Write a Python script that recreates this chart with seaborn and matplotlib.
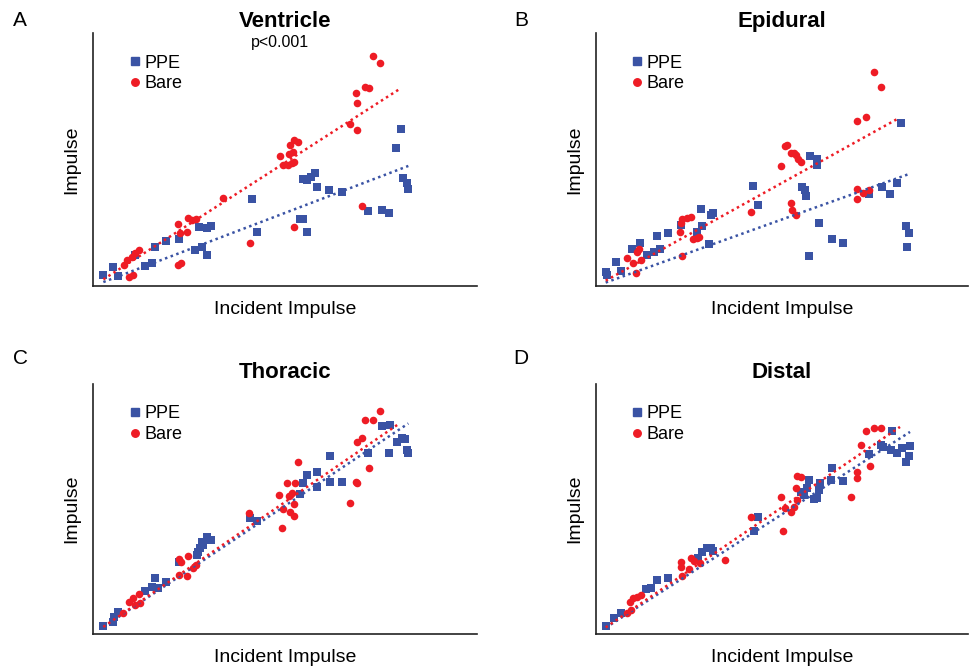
import matplotlib
matplotlib.use("Agg")
import matplotlib.pyplot as plt
from matplotlib.lines import Line2D
import seaborn as sns
import numpy as np
import pandas as pd

# values (arbitrary units, no tick labels in the original)
ventricle_ppe_x = [3.1, 6.1, 7.6, 12.6, 15.6, 17.6, 18.6, 21.9, 25.9, 30.6, 32.6, 34.3, 31.9, 34.1, 35.3,
                   47.6, 49.1, 62.1, 63.1, 64.3, 62.9, 64.1, 65.4, 66.6, 67.1, 70.9, 74.8, 82.6, 86.6, 88.9,
                   90.9, 92.3, 93.1, 94.1, 94.6]
ventricle_ppe_y = [3.3, 5.6, 3.1, 9.3, 6.0, 6.8, 11.6, 13.6, 14.1, 10.8, 11.6, 9.3, 17.8, 17.3, 18.0,
                   26.1, 16.1, 20.0, 20.1, 16.2, 32.0, 31.8, 32.6, 34.0, 29.6, 28.8, 28.3, 22.5, 22.8, 22.0,
                   41.3, 47.0, 32.3, 30.8, 29.0]
ventricle_bare_x = [10.9, 11.9, 9.4, 10.3, 11.6, 12.6, 13.9, 25.6, 26.3, 25.6, 26.1, 28.3, 28.6, 29.6, 30.9,
                    38.9, 47.1, 60.3, 56.1, 57.1, 58.6, 59.6, 60.3, 59.1, 60.4, 61.6, 59.9, 58.9, 77.1, 79.1,
                    78.8, 79.1, 81.6, 82.9, 84.1, 86.1, 80.6]
ventricle_bare_y = [2.6, 3.3, 6.3, 7.8, 8.8, 10.0, 10.8, 6.3, 6.8, 18.5, 16.0, 16.1, 20.5, 19.8, 20.1,
                    26.3, 13.0, 17.8, 39.0, 36.3, 36.3, 37.0, 37.3, 42.3, 43.8, 43.3, 40.3, 39.6, 48.5, 46.8,
                    58.0, 55.0, 59.6, 59.3, 69.0, 66.8, 24.0]

epidural_ppe_x = [2.9, 3.4, 5.9, 7.4, 10.9, 13.1, 15.4, 17.4, 19.2, 18.2, 21.6, 25.6, 30.2, 31.9, 31.6,
                  34.4, 35.2, 33.9, 47.2, 48.7, 61.9, 62.6, 62.9, 64.2, 66.4, 66.4, 63.9, 66.9, 70.7, 74.2,
                  81.9, 85.9, 88.2, 90.4, 91.6, 92.9, 93.9, 93.4]
epidural_ppe_y = [4.3, 3.3, 7.3, 4.6, 11.1, 12.8, 9.3, 10.1, 11.0, 15.1, 16.0, 18.3, 16.3, 18.0, 23.0,
                  21.3, 22.0, 12.6, 30.0, 24.3, 29.8, 28.8, 27.1, 39.0, 38.0, 36.3, 9.1, 19.0, 14.1, 12.8,
                  27.6, 29.8, 27.6, 31.0, 48.8, 18.0, 15.8, 11.8]
epidural_bare_x = [9.2, 11.2, 11.9, 12.2, 12.9, 13.6, 25.6, 25.9, 27.4, 28.6, 25.2, 29.2, 30.2, 30.9, 25.9,
                   46.4, 55.6, 56.6, 57.4, 58.4, 59.4, 59.9, 60.6, 61.4, 58.4, 58.9, 59.9, 78.4, 80.9, 83.4,
                   85.4, 78.4, 78.2, 80.2, 81.9]
epidural_bare_y = [8.3, 6.8, 3.8, 10.3, 11.0, 7.8, 19.0, 20.0, 20.5, 20.6, 16.1, 14.2, 14.5, 14.8, 9.1,
                   22.3, 36.0, 42.0, 42.3, 39.8, 40.0, 39.3, 38.1, 37.3, 25.0, 22.8, 21.3, 49.5, 50.6, 64.2,
                   59.8, 29.0, 26.1, 27.8, 28.8]

thoracic_ppe_x = [3.1, 5.9, 6.3, 7.6, 15.6, 17.6, 18.6, 19.6, 21.9, 25.9, 31.1, 31.6, 32.1, 32.6, 33.1,
                  34.1, 35.3, 47.1, 49.1, 62.1, 63.1, 64.1, 67.1, 67.1, 71.1, 71.1, 74.8, 82.6, 86.6, 89.1,
                  88.9, 91.1, 92.6, 93.6, 94.1, 94.6]
thoracic_ppe_y = [2.5, 3.7, 5.2, 6.7, 13.0, 14.1, 16.7, 13.7, 15.5, 21.7, 23.7, 24.7, 25.7, 27.7, 26.7,
                  29.2, 28.2, 34.7, 33.9, 41.9, 45.2, 47.7, 48.5, 44.2, 53.5, 45.5, 45.7, 54.4, 62.4, 62.7,
                  54.2, 57.7, 58.9, 58.5, 55.2, 54.4]
thoracic_bare_x = [9.1, 10.9, 11.9, 12.6, 13.9, 14.1, 25.9, 26.3, 28.6, 25.9, 28.3, 29.9, 30.9, 46.9, 55.9,
                   56.6, 57.1, 58.1, 58.9, 59.6, 60.3, 59.1, 60.3, 60.6, 61.6, 79.1, 80.6, 81.6, 84.1, 86.1,
                   77.1, 78.9, 79.1, 82.9]
thoracic_bare_y = [6.2, 9.7, 10.7, 8.7, 11.9, 9.2, 22.5, 21.7, 23.5, 17.7, 17.5, 19.7, 20.7, 36.2, 41.7,
                   31.9, 37.5, 45.2, 41.5, 42.2, 38.9, 36.7, 35.4, 45.2, 51.5, 57.5, 58.7, 64.2, 64.2, 66.9,
                   39.2, 45.7, 45.2, 49.9]

distal_ppe_x = [2.9, 5.4, 7.4, 14.9, 16.4, 18.2, 21.6, 30.6, 31.9, 33.2, 34.4, 35.2, 47.4, 48.6, 61.4,
                62.4, 63.2, 63.9, 65.4, 66.4, 66.9, 67.2, 70.6, 70.9, 74.2, 81.9, 85.4, 86.2, 88.4, 90.4,
                91.9, 92.9, 93.9, 94.2, 88.9]
distal_ppe_y = [2.5, 4.7, 6.2, 13.5, 13.7, 16.2, 16.9, 22.7, 24.7, 25.7, 25.9, 24.9, 30.9, 35.2, 42.7,
                41.7, 43.7, 46.2, 40.5, 40.7, 43.2, 45.2, 46.2, 49.7, 46.0, 53.9, 56.7, 56.2, 55.2, 54.2,
                55.7, 51.7, 53.5, 56.5, 60.9]
distal_bare_x = [9.2, 10.4, 10.2, 11.2, 12.2, 13.4, 25.4, 25.6, 28.4, 27.9, 29.4, 31.2, 25.9, 38.6, 46.6,
                 55.6, 56.2, 56.6, 58.4, 59.4, 60.2, 59.9, 60.2, 61.4, 76.4, 78.4, 78.2, 79.4, 80.9, 83.4,
                 85.4, 82.2]
distal_bare_y = [6.2, 7.2, 9.7, 10.7, 11.2, 11.7, 21.7, 20.2, 22.9, 19.5, 21.9, 21.2, 17.5, 22.2, 35.2,
                 41.0, 30.9, 37.7, 36.7, 38.2, 40.2, 43.9, 47.5, 47.2, 41.2, 48.5, 46.9, 56.7, 60.9, 61.9,
                 61.9, 50.5]

titles = ['Ventricle', 'Epidural', 'Thoracic', 'Distal']
letters = ['A', 'B', 'C', 'D']
groups = ['PPE', 'Bare']

BLUE = '#3A53A4'
RED = '#EE1C25'
colors = {'PPE': BLUE, 'Bare': RED}
markers = {'PPE': 's', 'Bare': 'o'}
sizes = {'PPE': 34, 'Bare': 30}


def make_df(ppe_x, ppe_y, bare_x, bare_y):
    a = pd.DataFrame({'x': ppe_x, 'y': ppe_y, 'group': 'PPE'})
    b = pd.DataFrame({'x': bare_x, 'y': bare_y, 'group': 'Bare'})
    return pd.concat([a, b], ignore_index=True)


def origin_fit(sub, x0, x1):
    # least squares trendline forced through zero (as in the original spreadsheet plots)
    slope = (sub['x'] * sub['y']).sum() / (sub['x'] ** 2).sum()
    xs = np.array([x0, x1])
    return pd.DataFrame({'x': xs, 'y': slope * xs})


panels = [
    make_df(ventricle_ppe_x, ventricle_ppe_y, ventricle_bare_x, ventricle_bare_y),
    make_df(epidural_ppe_x, epidural_ppe_y, epidural_bare_x, epidural_bare_y),
    make_df(thoracic_ppe_x, thoracic_ppe_y, thoracic_bare_x, thoracic_bare_y),
    make_df(distal_ppe_x, distal_ppe_y, distal_bare_x, distal_bare_y),
]

sns.set_style('white')
plt.rcParams['font.family'] = ['Liberation Sans', 'DejaVu Sans']
plt.rcParams['text.color'] = 'black'
plt.rcParams['axes.labelcolor'] = 'black'

W, H = 969, 670
fig = plt.figure(figsize=(W / 100, H / 100), dpi=100)

# axes boxes in pixels: left, top, width, height
boxes = [(93, 33, 384, 253), (596, 33, 372, 253), (93, 384, 384, 250), (596, 384, 372, 250)]
letter_pos = [(20, 21), (521, 20), (20, 359), (521, 359)]

for i, df in enumerate(panels):
    l, t, w, h = boxes[i]
    ax = fig.add_axes([l / W, 1 - (t + h) / H, w / W, h / H])

    for g in groups:
        sub = df[df['group'] == g]
        sns.scatterplot(data=sub, x='x', y='y', ax=ax, color=colors[g], marker=markers[g],
                        s=sizes[g], linewidth=0, legend=False, zorder=2)

    x0, x1 = df['x'].min(), df['x'].max()
    for g in groups:
        sub = df[df['group'] == g]
        end = x1 if g == 'PPE' else x1 - 3
        line = origin_fit(sub, x0, end)
        sns.lineplot(data=line, x='x', y='y', ax=ax, color=colors[g], ls=(0, (1, 1.4)), lw=1.8,
                     zorder=3, legend=False)

    ax.set_xlim(0, w * 0.3)
    ax.set_ylim(0, h * 0.3)
    ax.set_xticks([])
    ax.set_yticks([])
    ax.set_xlabel('Incident Impulse', fontsize=14, labelpad=11)
    ax.set_ylabel('Impulse', fontsize=14, labelpad=9)
    ax.set_title(titles[i], fontsize=16, fontweight='bold', pad=4)
    sns.despine(ax=ax)
    for sp in ['left', 'bottom']:
        ax.spines[sp].set_color('#222222')
        ax.spines[sp].set_linewidth(1.2)

    handles = [Line2D([], [], ls='none', marker='s', color=BLUE, markersize=5.2),
               Line2D([], [], ls='none', marker='o', color=RED, markersize=5.4)]
    ax.legend(handles, groups, loc='upper left', bbox_to_anchor=(0.095, 0.915), frameon=False,
              fontsize=13, handlelength=0.6, handletextpad=0.25, labelspacing=0.2, borderpad=0,
              borderaxespad=0)

    if i == 0:
        ax.text(0.487, 0.964, 'p<0.001', transform=ax.transAxes, ha='center', va='center', fontsize=11.5)

    fig.text(letter_pos[i][0] / W, 1 - letter_pos[i][1] / H, letters[i], ha='center', va='center',
             fontsize=15)

fig.savefig('out.png', dpi=100)
